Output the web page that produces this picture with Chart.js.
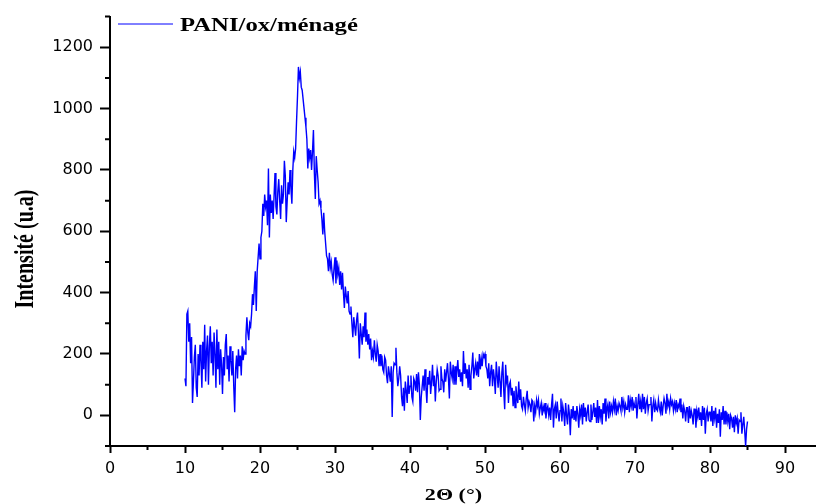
<!DOCTYPE html>
<html lang="fr">
<head>
    <meta charset="UTF-8">
    <title>PANI/ox/ménagé - DRX</title>
    <script src="https://cdn.jsdelivr.net/npm/chart.js"></script>
    <style>
        html, body { margin: 0; padding: 0; background: #fff; }
        #wrap { width: 816px; height: 504px; }
    </style>
</head>
<body>
    <div id="wrap"><canvas id="xrdChart"></canvas></div>
    <script>
        // 2Θ sampling grid (start + step) and intensities
        const twoThetaStart = 10;
        const twoThetaStep = 0.125;
        const intensity = [
            120, 95, 330, 340, 240, 300, 170, 255,        // 10
            40, 110, 190, 230, 90, 60, 200, 130,          // 11
            230, 180, 90, 240, 150, 295, 110, 210,        // 12
            260, 100, 225, 290, 170, 240, 130, 270,       // 13
            200, 90, 280, 150, 240, 100, 215, 165,        // 14
            70, 190, 130, 230, 265, 150, 195, 110,        // 15
            225, 180, 130, 210, 95, 10, 150, 195,         // 16
            120, 215, 160, 195, 130, 225, 180, 210,       // 17
            200, 260, 320, 270, 245, 300, 290, 330,       // 18
            395, 360, 420, 470, 340, 470, 515, 560,       // 19
            510, 580, 600, 690, 650, 720, 680, 700,       // 20
            620, 805, 580, 720, 660, 700, 640, 715,       // 21
            790, 680, 655, 730, 770, 700, 640, 750,       // 22
            690, 720, 830, 780, 630, 700, 760, 720,       // 23
            800, 740, 690, 800, 860, 840, 870, 960,       // 24
            1040, 1136, 1100, 1120, 1070, 1060, 1030, 1000, // 25
            970, 940, 900, 805, 870, 840, 865, 800,       // 26
            860, 930, 790, 705, 845, 800, 760, 690,       // 27
            700, 675, 640, 590, 660, 600, 560, 520,       // 28
            510, 470, 530, 480, 500, 460, 440, 480,       // 29
            515, 430, 505, 460, 480, 425, 470, 410,       // 30
            465, 400, 350, 420, 390, 365, 405, 340,       // 31
            330, 355, 300, 255, 320, 290, 260, 310,       // 32
            335, 270, 185, 300, 265, 230, 290, 255,       // 33
            335, 240, 280, 230, 265, 215, 250, 180,       // 34
            210, 190, 245, 200, 175, 230, 210, 160,       // 35
            200, 160, 195, 150, 140, 190, 180, 130,       // 36
            105, 160, 135, 110, 160, -5, 140, 170,        // 37
            165, 220, 140, 95, 120, 160, 130, 60,         // 38
            30, 90, 15, 110, 80, 40, 130, 70,             // 39
            95, 130, 60, 45, 120, 110, 80, 135,           // 40
            75, 140, 100, -15, 60, 95, 130, 80,           // 41
            150, 90, 40, 125, 100, 145, 70, 110,          // 42
            165, 95, 130, 45, 110, 150, 130, 80,          // 43
            85, 160, 120, 110, 75, 150, 110, 140,         // 44
            170, 120, 55, 175, 140, 120, 165, 100,        // 45
            160, 100, 145, 180, 125, 150, 110, 140,       // 46
            95, 210, 135, 170, 120, 150, 90, 165,         // 47
            85, 130, 160, 205, 120, 150, 170, 130,        // 48
            175, 125, 200, 150, 185, 160, 200, 190,       // 49
            200, 160, 150, 120, 170, 95, 140, 165,        // 50
            95, 150, 120, 70, 175, 130, 90, 160,          // 51
            110, 60, 140, 175, 80, 20, 165, 110,          // 52
            130, 40, 100, 110, 65, 90, 30, 80,            // 53
            25, 95, 60, 40, 110, 50, 85, 30,              // 54
            20, 60, 35, 15, 55, 80, 25, 45,               // 55
            35, 10, 50, 45, -20, 30, 10, 50,              // 56
            30, 50, 5, 25, 40, 0, 30, 15,                 // 57
            40, -10, 20, 30, 0, 25, -15, 35,              // 58
            70, -40, 20, 35, -10, 45, 10, -20,            // 59
            15, 55, -20, 30, 10, -35, 40, 0,              // 60
            -30, 35, 5, -65, 20, -10, 30, -15,            // 61
            15, -20, 30, 5, -40, 20, 0, 35,               // 62
            -30, 40, -5, 25, -20, 10, 35, -15,            // 63
            -20, 35, -15, 10, 40, -5, 25, -25,            // 64
            50, -25, 30, -5, 20, -30, 40, 5,              // 65
            55, -20, 20, 35, -10, 45, 10, 30,             // 66
            10, 45, 20, 55, 0, 30, 15, 40,                // 67
            30, 15, 60, 25, 45, 10, 35, 20,               // 68
            20, 65, 10, 50, 30, 60, 15, 40,               // 69
            25, 60, -10, 35, 70, 20, 45, 10,              // 70
            70, 20, 60, 5, 40, 55, 15, 35,                // 71
            35, 60, -20, 30, 50, 10, 40, 20,              // 72
            15, 50, 25, 10, 45, 0, 30, 55,                // 73
            40, 5, 70, 30, 45, 20, 55, 35,                // 74
            45, 15, 40, 20, 50, 10, 35, 25,               // 75
            55, 10, 35, -10, 30, 15, -20, 25,             // 76
            25, -25, 30, -10, 15, 0, -30, 20,             // 77
            20, -40, 15, -5, 25, -15, 10, -35,            // 78
            30, -15, 25, -60, 5, 20, -20, 10,             // 79
            10, -20, 30, -35, 15, -10, 25, -40,           // 80
            5, -25, 20, -70, 10, -15, 30, -30,            // 81
            15, -30, 10, -20, 5, -45, 0, -10,             // 82
            -40, -5, -55, 0, -25, -10, -60, -15,          // 83
            -20, 10, -60, -30, -5, -50, -100, -45,        // 84
            -20                                           // 85
        ];
        const seriesLabel = 'PANI/ox/ménagé';
        const xTickValues = [0, 10, 20, 30, 40, 50, 60, 70, 80, 90];
        const xMinorValues = [5, 15, 25, 35, 45, 55, 65, 75, 85];
        const yTickValues = [0, 200, 400, 600, 800, 1000, 1200];
        const yMinorValues = [-100, 100, 300, 500, 700, 900, 1100, 1300];

        const points = intensity.map((v, i) => ({ x: twoThetaStart + i * twoThetaStep, y: v }));

        // minor ticks, legend and the stretched serif titles
        const decorPlugin = {
            id: 'decor',
            afterDraw(chart) {
                const ctx = chart.ctx;
                const xs = chart.scales.x, ys = chart.scales.y;
                const area = chart.chartArea;
                ctx.save();
                ctx.strokeStyle = '#000';
                ctx.lineWidth = 2;
                ctx.beginPath();
                xMinorValues.forEach(v => {
                    const px = xs.getPixelForValue(v);
                    ctx.moveTo(px, area.bottom);
                    ctx.lineTo(px, area.bottom + 4);
                });
                yMinorValues.forEach(v => {
                    const py = ys.getPixelForValue(v);
                    ctx.moveTo(area.left, py);
                    ctx.lineTo(area.left - 5, py);
                });
                ctx.stroke();

                // legend
                ctx.strokeStyle = '#0000ff';
                ctx.lineWidth = 1;
                ctx.beginPath();
                ctx.moveTo(118, 24);
                ctx.lineTo(173, 24);
                ctx.stroke();
                ctx.fillStyle = '#000';
                ctx.save();
                ctx.translate(180, 31);
                ctx.scale(1.3, 1);
                ctx.font = 'bold 19px "Liberation Serif"';
                ctx.textAlign = 'left';
                ctx.fillText(seriesLabel, 0, 0);
                ctx.restore();

                // x title
                ctx.save();
                ctx.translate(453.5, 500);
                ctx.scale(1.3, 1);
                ctx.font = 'bold 17px "Liberation Serif"';
                ctx.textAlign = 'center';
                ctx.fillText('2Θ (°)', 0, 0);
                ctx.restore();

                // y title
                ctx.save();
                ctx.translate(32.5, 249);
                ctx.rotate(-Math.PI / 2);
                ctx.scale(1, 1.4);
                ctx.font = 'bold 20px "Liberation Serif"';
                ctx.textAlign = 'center';
                ctx.fillText('Intensité (u.a)', 0, 0);
                ctx.restore();
                ctx.restore();
            }
        };

        const ctx = document.getElementById('xrdChart').getContext('2d');
        new Chart(ctx, {
            type: 'line',
            data: {
                datasets: [{
                    label: seriesLabel,
                    data: points,
                    borderColor: '#0000ff',
                    borderWidth: 1.4,
                    pointRadius: 0,
                    tension: 0,
                    fill: false
                }]
            },
            options: {
                responsive: true,
                maintainAspectRatio: false,
                animation: false,
                layout: { padding: { top: 13, right: 1, bottom: 0, left: 0 } },
                plugins: {
                    legend: { display: false },
                    tooltip: { enabled: false }
                },
                scales: {
                    x: {
                        type: 'linear',
                        min: 0,
                        max: 94,
                        afterBuildTicks: s => { s.ticks = xTickValues.map(v => ({ value: v })); },
                        afterFit: s => { s.height = 58; },
                        grid: { drawOnChartArea: false, drawTicks: true, tickLength: 7, tickWidth: 2, tickColor: '#000' },
                        border: { display: true, color: '#000', width: 2 },
                        ticks: {
                            color: '#000',
                            padding: 6,
                            maxRotation: 0,
                            callback: v => String(v),
                            font: { family: '"DejaVu Sans"', size: 16 }
                        }
                    },
                    y: {
                        min: -100,
                        max: 1300,
                        afterBuildTicks: s => { s.ticks = yTickValues.map(v => ({ value: v })); },
                        afterFit: s => { s.width = 110; },
                        grid: { drawOnChartArea: false, drawTicks: true, tickLength: 10, tickWidth: 2, tickColor: '#000' },
                        border: { display: true, color: '#000', width: 2 },
                        ticks: {
                            color: '#000',
                            padding: 7,
                            callback: v => String(v),
                            font: { family: '"DejaVu Sans"', size: 16 }
                        }
                    }
                }
            },
            plugins: [decorPlugin]
        });
    </script>
</body>
</html>
